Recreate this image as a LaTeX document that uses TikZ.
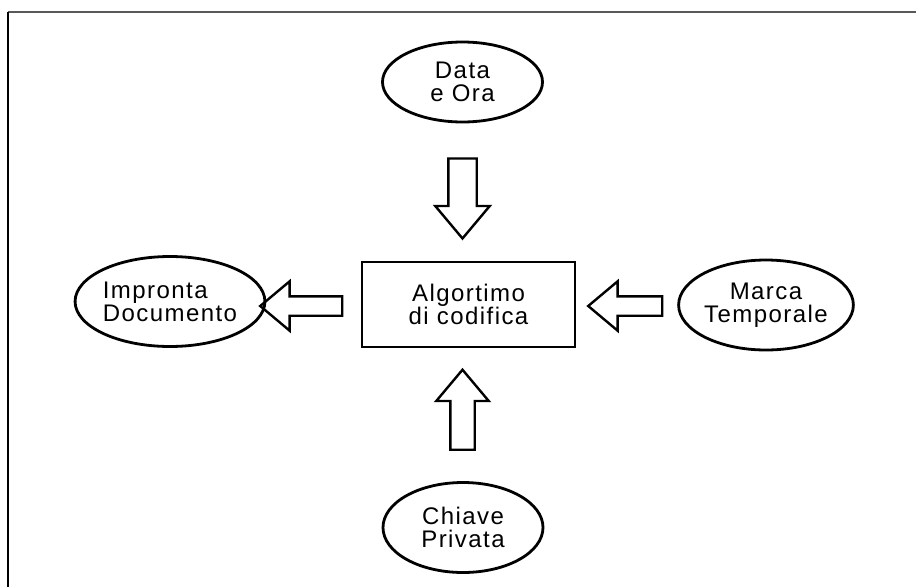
\documentclass[tikz,border=0pt]{standalone}
\usepackage{fontspec}
\newfontfamily\labelfont{Liberation Sans}[LetterSpace=6]
\usetikzlibrary{shapes.geometric,shapes.arrows}

\tikzset{
  oval/.style={ellipse, draw, line width=2.8pt, inner sep=0pt, align=center},
  algbox/.style={rectangle, draw, line width=2.8pt, inner sep=0pt, align=center},
  blockarrow/.style={single arrow, draw, line width=2.4pt, inner xsep=0pt,
    single arrow tip angle=80, single arrow head extend=14pt},
}

\begin{document}
\begin{tikzpicture}[x=1pt, y=-1pt, font=\labelfont\fontsize{24}{23}\selectfont]
\useasboundingbox (0,0) rectangle (916,587);

% Draw the frame
\draw[line width=2pt, black!65] (8,12) -- (916,12);
\draw[line width=2pt] (8,12) -- (8,587);

% Draw the central box and the four ovals
\node[algbox, minimum width=213pt, minimum height=85pt] (alg) at (468.5,304.5) {Algortimo\\di codifica};
\node[oval, minimum width=160pt, minimum height=80pt] (data) at (462.5,82) {Data\\e Ora};
\node[oval, minimum width=170pt, minimum height=90pt, align=left] (impronta) at (170,301.5) {Impronta\\Documento};
\node[oval, minimum width=172pt, minimum height=90pt] (marca) at (766,305) {Marca\\Temporale};
\node[oval, minimum width=160pt, minimum height=90pt] (chiave) at (463,527.5) {Chiave\\Privata};

% Draw the block arrows
\node[blockarrow, inner ysep=13pt, minimum height=80pt, single arrow head extend=13pt, rotate=-90] (arrdata) at (462.5,190) {};
\node[blockarrow, inner ysep=11pt, minimum height=80pt, rotate=90] (arrchiave) at (462.5,417) {};
\node[blockarrow, inner ysep=8.5pt, minimum height=82pt, single arrow head extend=15pt, shape border rotate=180] (arrimpronta) at (307,306) {};
\node[blockarrow, inner ysep=8.5pt, minimum height=74pt, single arrow head extend=15pt, shape border rotate=180] (arrmarca) at (631,306) {};
\end{tikzpicture}
\end{document}
